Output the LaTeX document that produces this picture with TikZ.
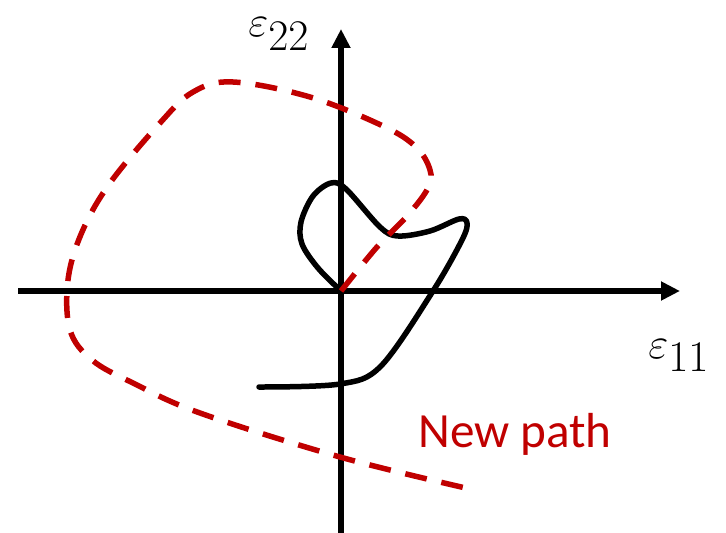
\documentclass[tikz,border=0pt]{standalone}
\usepackage{fontspec}
\setmainfont{Carlito}
\usepackage{tikz}
\usetikzlibrary{arrows.meta,positioning}
\definecolor{pathred}{RGB}{192,0,0}

\begin{document}
\begin{tikzpicture}[
        x=0.02cm,y=-0.02cm,
        axis/.style={line width=0.11cm,-{Triangle[length=0.38cm,width=0.36cm]}},
        oldpath/.style={black,line width=0.11cm,line cap=round,line join=round},
        newpath/.style={pathred,line width=0.11cm,dash pattern=on 0.44cm off 0.3cm},
        axislabel/.style={font=\fontsize{33}{36}\selectfont,inner sep=0pt,anchor=base west},
        pathlabel/.style={pathred,font=\fontsize{28}{33}\selectfont},
    ]
    \useasboundingbox (0,0) rectangle (726,533);
    % === axes ===
    \coordinate (O) at (341,291);
    \coordinate (xstart) at (18,291);
    \coordinate (xend) at (680,291);
    \coordinate (ystart) at (341,533);
    \coordinate (yend) at (341,29);
    \draw[axis] (xstart) -- (xend);
    \draw[axis] (ystart) -- (yend);
    \node[axislabel] (e22) at (248,37) {$\varepsilon_{22}$};
    \node[axislabel] (e11) at (648,358) {$\varepsilon_{11}$};

    % === loading path ===
    \draw[oldpath] plot[smooth,tension=0.55] coordinates {(O) (318,268) (302,244) (301,222) (313,196) (331,183) (346,189) (380,227) (398,236) (430,231) (459,219) (467,223) (462,240) (433,291) (381,366) (340,384) (259,387)};

    % === new path ===
    \draw[newpath] plot[smooth,tension=0.6] coordinates {(O) (377,247) (408,215) (428,188) (430,170) (416,147) (383,126) (310,97) (233,82) (193,92) (160,123) (110,183) (82,232) (68,280) (70,330) (92,360) (133,383) (200,413) (340,457) (470,489)};
    \node[pathlabel] (newlbl) at (515,434) {New path};
\end{tikzpicture}
\end{document}
